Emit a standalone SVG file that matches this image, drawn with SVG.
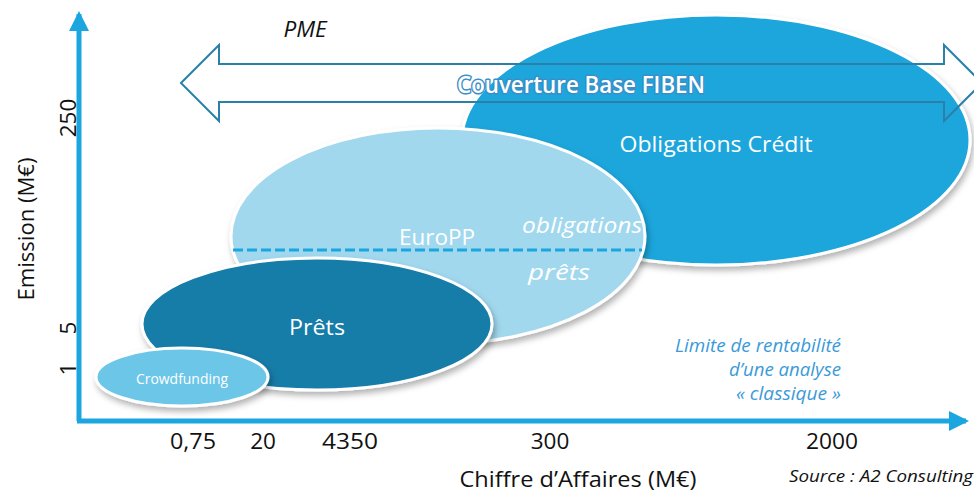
<svg xmlns="http://www.w3.org/2000/svg" width="974" height="492" viewBox="0 0 974 492">
<defs>
<filter id="sh" x="-10%" y="-10%" width="120%" height="130%">
<feDropShadow dx="2" dy="4" stdDeviation="3" flood-color="#000" flood-opacity="0.3"/>
</filter>
<marker id="ah" markerWidth="4" markerHeight="4" refX="3.4" refY="2" orient="auto" markerUnits="strokeWidth">
<path d="M0,0 L4,2 L0,4 Z" fill="#1ba6e0"/>
</marker>
</defs>
<style>
.t{font-family:"Open Sans","Liberation Sans",sans-serif;}
.w{fill:#fff;}
.k{fill:#111;}
.i{font-style:italic;}
.ell{stroke:#fff;stroke-width:3;filter:url(#sh);}
.ax{stroke:#1ba6e0;stroke-width:5;fill:none;}
.n{font-size:22.5px;}
</style>
<rect width="974" height="492" fill="#fff"/>
<g id="oblig">
<ellipse class="ell" cx="716" cy="140" rx="254" ry="125" fill="#1ca6dc"/>
<text class="t w" x="716" y="152" font-size="22" text-anchor="middle" textLength="193" lengthAdjust="spacingAndGlyphs">Obligations Crédit</text>
</g>
<g id="europp">
<ellipse class="ell" cx="438" cy="236" rx="207" ry="108" fill="#a1d8ee"/>
<text class="t w" x="437" y="245" font-size="21" text-anchor="middle" textLength="76" lengthAdjust="spacingAndGlyphs">EuroPP</text>
<line x1="233" y1="250" x2="642" y2="250" stroke="#1ba6e0" stroke-width="3" stroke-dasharray="10 4"/>
<text class="t w i" x="582" y="233" font-size="21" text-anchor="middle" textLength="120" lengthAdjust="spacingAndGlyphs">obligations</text>
<text class="t w i" x="559" y="280" font-size="21" text-anchor="middle" textLength="62" lengthAdjust="spacingAndGlyphs">prêts</text>
</g>
<g id="prets">
<ellipse class="ell" cx="317" cy="324" rx="175" ry="66" fill="#157ca8"/>
<text class="t w" x="317" y="335" font-size="22" text-anchor="middle" textLength="56" lengthAdjust="spacingAndGlyphs">Prêts</text>
</g>
<g id="crowd">
<ellipse class="ell" cx="182" cy="377" rx="86" ry="29" fill="#6cc6e8"/>
<text class="t w" x="182" y="384" font-size="14" text-anchor="middle" textLength="92" lengthAdjust="spacingAndGlyphs">Crowdfunding</text>
</g>
<g id="fiben">
<path d="M181,83 L219,45 L219,64 L944,64 L944,45 L982,83 L944,121 L944,102 L219,102 L219,121 Z" fill="none" stroke="#2a80a8" stroke-width="2"/>
<text class="t" x="581" y="93" font-size="24" font-weight="600" text-anchor="middle" textLength="248" lengthAdjust="spacingAndGlyphs" fill="#fff" stroke="#3a8fc8" stroke-width="3" stroke-linejoin="round" paint-order="stroke">Couverture Base FIBEN</text>
<text class="t i k" x="305" y="37" font-size="22.5" text-anchor="middle">PME</text>
</g>
<g id="connectors">
<line class="ax" x1="79" y1="421" x2="79" y2="14" marker-end="url(#ah)"/>
<line class="ax" x1="77" y1="421" x2="966" y2="421" marker-end="url(#ah)"/>
</g>
<g id="labels">
<text class="t k" transform="translate(34,229) rotate(-90)" font-size="22" text-anchor="middle" textLength="143" lengthAdjust="spacingAndGlyphs">Emission (M€)</text>
<text class="t k n" transform="translate(76,118) rotate(-90)" text-anchor="middle">250</text>
<text class="t k n" transform="translate(76,328) rotate(-90)" text-anchor="middle">5</text>
<text class="t k n" transform="translate(76,369) rotate(-90)" text-anchor="middle">1</text>
<text class="t k n" x="193" y="449" text-anchor="middle" textLength="46" lengthAdjust="spacingAndGlyphs">0,75</text>
<text class="t k n" x="263" y="449" text-anchor="middle">20</text>
<text class="t k n" x="350" y="449" text-anchor="middle" textLength="56" lengthAdjust="spacingAndGlyphs">4350</text>
<text class="t k n" x="550" y="449" text-anchor="middle">300</text>
<text class="t k n" x="832" y="449" text-anchor="middle" textLength="52" lengthAdjust="spacingAndGlyphs">2000</text>
<text class="t k" x="578" y="487" font-size="22" text-anchor="middle" textLength="237" lengthAdjust="spacingAndGlyphs">Chiffre d’Affaires (M€)</text>
<text class="t k i" x="881" y="482" font-size="17" text-anchor="middle" textLength="184" lengthAdjust="spacingAndGlyphs">Source : A2 Consulting</text>
<g fill="#3b9ad8" class="t i" font-size="17.5" text-anchor="end">
<text x="841" y="352" textLength="166" lengthAdjust="spacingAndGlyphs">Limite de rentabilité</text>
<text x="841" y="376" textLength="112" lengthAdjust="spacingAndGlyphs">d’une analyse</text>
<text x="841" y="400" textLength="105" lengthAdjust="spacingAndGlyphs">« classique »</text>
</g>
</g>
</svg>
